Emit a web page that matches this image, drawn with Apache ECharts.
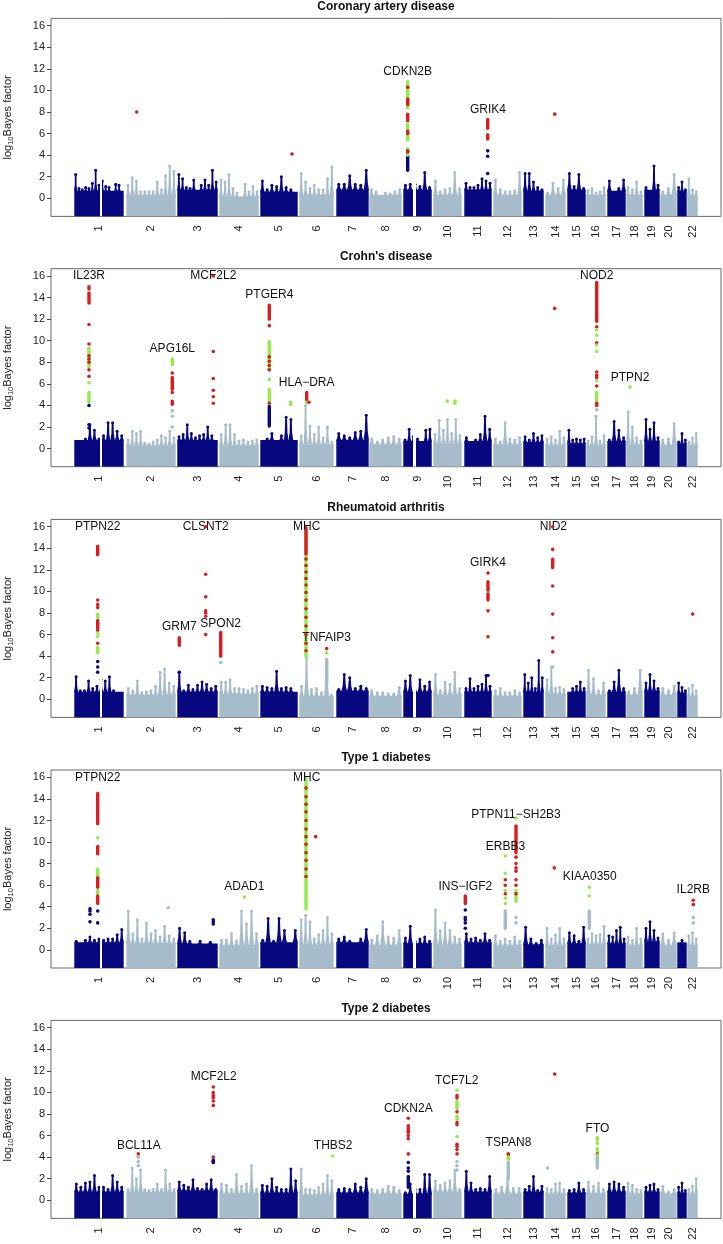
<!DOCTYPE html>
<html>
<head>
<meta charset="utf-8">
<script src="https://cdn.jsdelivr.net/npm/echarts@6/dist/echarts.min.js"></script>
<style>
html, body { margin: 0; padding: 0; background: #fff; }
#main { width: 723px; height: 1244px; }
</style>
</head>
<body>
<div id="main"></div>
<script>
var myChart = echarts.init(document.getElementById('main'));

// chromosomes and their extent along the cumulative position axis
var chromosomes = ['1','2','3','4','5','6','7','8','9','10','11','12','13','14','15','16','17','18','19','20','21','22'];
var chrStart = [23, 75, 126, 168, 209, 248, 285, 318, 352, 382, 413, 442, 472, 494, 516, 535, 556, 575, 593, 609, 626, 636];
var chrEnd   = [73, 125, 167, 208, 247, 283, 318, 351, 381, 411, 441, 471, 493, 515, 535, 555, 575, 592, 609, 626, 636, 647];
var chrGaps = { 0: [49, 51], 8: [362, 365] };
var yTicks = [0, 2, 4, 6, 8, 10, 12, 14, 16];

// ---- Coronary artery disease
var cadBase = [0.7,0.3,0.8,0.2,0.6,0.3,0.8,0.3,0.8,0.3,0.8,0.3,0.7,0.3,0.8,0.3,0.7,0.3,0.8,0.3,0.7,0.3];
var cadSpikes = [
  [2.2,0.9,0.8,1.0,0.9,1.4,2.6,1.2,1.6,1.1,1.0,0.7,1.3,1.2,0.6],
  [1.2,1.9,1.6,0.6,0.6,0.6,0.6,1.5,0.8,2.1,3.0,2.5],
  [2.2,1.8,1.0,0.9,1.7,0.5,1.2,1.7,1.2,2.6,1.5],
  [1.7,1.5,2.2,0.9,0.5,0.1,1.3,0.6,1.1,0.6],
  [1.6,0.8,1.2,1.1,2.0,1.0,0.8,0.6],
  [2.3,1.5,0.9,1.2,0.8,0.8,1.8,2.9],
  [1.3,1.3,2.1,1.3,1.2,2.6],
  [0.8,0.6,0.2,0.5,0.4,0.6,0.8],
  [1.2,1.3,1.3,1.1,2.4,1.0],
  [1.6,0.6,0.8,0.9,2.4,0.9],
  [1.4,1.0,1.0,1.2,1.8,1.6,1.4],
  [1.7,0.8,0.6,0.6,0.7,2.4],
  [2.3,2.3,1.5,1.0,0.8],
  [0.5,1.4,0.9,1.7],
  [2.3,1.1,2.2,0.9],
  [0.7,0.9,0.5,0.6,1.0],
  [1.6,0.6,0.9,1.7],
  [1.0,0.8,1.5,0.6],
  [1.0,0.8,3.0,1.2],
  [0.6,0.9,2.2],
  [1.0,1.5,0.8],
  [1.8,0.8,0.6]
];
var cadRuns = [
  [356.7,2.6,3.9,'b'],[356.7,4.0,4.6,'g'],[356.7,5.4,6.9,'g'],[356.7,8.4,9.9,'g'],[356.7,10.0,10.8,'g'],
  [356.7,7.2,7.8,'r'],[356.7,8.7,9.2,'r'],[436.7,6.5,7.3,'r'],[436.7,5.5,5.9,'r']
];
var cadDots = [
  [85.7,8.0,'r'],[241,4.1,'r'],[503.7,7.8,'r'],
  [356.7,10.3,'r'],[356.7,6.2,'r'],[356.7,6.0,'r'],[356.7,4.4,'r'],[356.7,4.3,'r'],
  [436.7,4.4,'b'],[436.7,3.9,'b'],[436.7,2.3,'b']
];
var cadGenes = [['CDKN2B',356.7,11.7],['GRIK4',437,8.2]];

// ---- Crohn's disease
var cdBase = [0.8,0.3,0.8,0.3,0.8,0.4,0.8,0.4,0.7,0.5,0.7,0.4,0.6,0.3,0.5,0.3,0.7,0.4,0.7,0.3,0.5,0.3];
var cdSpikes = [
  [0.7,0.6,0.9,2.2,1.7,0.9,1.2,2.4,2.4,1.6,1.2],
  [0.8,1.6,1.4,1.6,0.5,0.4,0.6,0.8,1.2,1.0,1.6,1.0],
  [1.1,1.3,2.2,1.4,1.0,1.2,1.3,2.0,1.2,0.8],
  [1.3,2.2,2.2,1.3,0.7,0.8,0.6,0.7,0.8],
  [0.8,0.9,1.4,0.6,1.2,2.9,2.7,0.6],
  [1.2,4.0,2.1,1.3,2.0,1.0,2.0,0.6],
  [1.4,1.2,1.0,1.5,1.6,3.1],
  [0.9,0.6,0.8,1.0,1.1,0.9],
  [0.8,1.8,1.1,0.9,0.7,1.7,1.8],
  [1.3,2.6,1.7,2.7,1.4,2.7,1.2],
  [1.0,0.7,0.8,1.3,3.0,1.8],
  [0.9,0.6,2.4,0.9,0.8,1.0],
  [1.1,0.8,1.4,1.0,1.2],
  [0.9,1.1,0.8,1.6,1.0],
  [1.7,0.8,0.9,0.8,0.9],
  [0.7,1.1,3.0,0.7,1.2],
  [0.8,2.5,1.7,1.0],
  [3.4,2.0,1.0,0.7],
  [2.7,1.8,2.4,1.0],
  [0.8,0.9,2.3],
  [0.6,1.4,0.8],
  [0.6,1.0,1.4]
];
var cdRuns = [
  [38,13.5,14.4,'r'],[38,7.6,9.3,'g'],[38,4.3,5.2,'g'],
  [121.3,7.8,8.3,'g'],[121.3,5.5,6.6,'r'],[121.3,4.1,4.4,'r'],
  [218.3,12.0,13.3,'r'],[218.3,8.8,9.9,'g'],[218.3,7.3,8.7,'g'],[218.3,4.4,5.5,'g'],[218.3,2.1,3.9,'b'],
  [255.7,4.5,5.2,'r'],[545.7,11.8,15.4,'r'],[545.7,4.4,5.2,'g']
];
var cdDots = [
  [38,15.0,'r'],[38,14.8,'r'],[38,11.5,'r'],[38,9.7,'r'],[38,8.6,'r'],[38,8.3,'r'],[38,8.0,'r'],[38,7.3,'r'],[38,6.7,'r'],[38,6.1,'g'],[38,4.0,'b'],[38,2.2,'b'],[38,1.9,'b'],
  [162.3,16.0,'r'],[162.3,9.0,'r'],[162.3,6.5,'r'],[162.3,5.4,'r'],[162.3,4.8,'r'],[162.3,4.2,'r'],
  [121.3,7.0,'r'],[121.3,5.2,'r'],[121.3,3.5,'l'],[121.3,3.0,'l'],[121.3,2.0,'l'],
  [218.3,11.4,'r'],[218.3,8.5,'r'],[218.3,8.1,'r'],[218.3,7.7,'r'],[218.3,7.3,'r'],[218.3,6.4,'g'],[218.3,4.2,'r'],
  [239.7,4.3,'g'],[239.7,4.1,'g'],[255.7,4.3,'g'],[258,4.3,'r'],
  [545.7,11.3,'r'],[545.7,11.0,'g'],[545.7,10.5,'g'],[545.7,9.8,'r'],[545.7,9.6,'g'],[545.7,9.0,'g'],[545.7,7.1,'r'],[545.7,6.8,'r'],
  [545.7,6.6,'r'],[545.7,6.3,'g'],[545.7,5.8,'r'],[545.7,4.2,'r'],[545.7,4.0,'r'],[545.7,3.6,'l'],
  [503.7,13.0,'r'],[579,5.7,'g'],[396.3,4.4,'g'],[404,4.4,'g'],[404,4.2,'g']
];
var cdGenes = [['IL23R',38,16.0],['MCF2L2',162.3,16.0],['APG16L',121.3,9.3],['PTGER4',218.3,14.3],['HLA\u2212DRA',255.7,6.1],['NOD2',545.7,16.0],['PTPN2',579,6.6]];

// ---- Rheumatoid arthritis
var raBase = [0.7,0.4,0.7,0.5,0.7,0.3,0.8,0.3,0.7,0.4,0.7,0.3,0.7,0.5,0.7,0.4,0.7,0.4,0.8,0.4,0.6,0.3];
var raSpikes = [
  [2.1,0.8,0.8,1.7,1.0,1.2,1.8,1.7,2.1,0.8,0.6,0.5],
  [1.0,0.8,1.7,0.6,0.7,0.8,1.2,2.5,2.8,1.5,1.2],
  [2.5,0.8,1.3,0.9,1.3,1.6,1.4,1.0,1.2],
  [1.6,1.6,1.8,1.0,1.0,0.9,0.8,1.0,1.2],
  [1.2,1.1,1.0,2.6,1.0,1.1,1.0,0.5],
  [1.2,3.8,0.9,1.0,0.6,3.7,0.4],
  [0.9,2.3,2.0,1.0,1.2,1.0],
  [0.8,0.6,0.6,0.5,0.5,1.1],
  [1.7,2.2,0.8,1.8,1.2,1.6],
  [2.3,0.8,1.6,1.4,2.5,1.0],
  [1.0,1.9,1.0,1.2,1.4,2.2,1.2],
  [0.8,1.0,0.6,0.6,0.8,0.6],
  [2.3,1.5,2.0,1.0,3.6,2.0],
  [1.8,3.0,1.0,1.1,0.9],
  [0.7,1.0,1.2,1.6,1.0],
  [2.7,1.9,0.8,1.5],
  [0.8,1.6,2.7,1.0],
  [0.7,1.0,2.7],
  [1.5,2.3,1.7,1.0],
  [1.0,0.8,1.2],
  [1.5,1.1,0.8],
  [1.0,1.3,0.8]
];
var raRuns = [
  [46.7,13.4,14.2,'r'],[46.7,7.6,7.9,'g'],[46.7,6.4,7.3,'r'],[46.7,4.3,4.8,'g'],
  [128.3,5.0,5.7,'r'],[169.7,4.0,6.2,'r'],
  [255,4.0,15.6,'g'],[255,13.5,15.9,'r'],
  [275.7,1.5,3.7,'l'],
  [437,10.1,10.9,'r'],[437,9.2,9.8,'r'],
  [501.7,12.2,13.0,'r']
];
var raDots = [
  [46.7,9.2,'r'],[46.7,8.8,'r'],[46.7,8.5,'r'],[46.7,6.1,'g'],[46.7,5.8,'g'],[46.7,5.2,'r'],[46.7,3.5,'b'],[46.7,3.0,'b'],[46.7,2.5,'b'],
  [154.7,16.0,'r'],[154.7,11.6,'r'],[154.7,9.5,'r'],[154.7,8.2,'r'],[154.7,8.0,'r'],[154.7,7.7,'r'],[154.7,6.0,'r'],
  [128.3,2.5,'b'],[169.7,3.4,'l'],
  [255,13.0,'r'],[255,12.4,'r'],[255,11.8,'r'],[255,11.2,'r'],[255,10.6,'r'],[255,9.9,'r'],[255,9.2,'r'],[255,8.4,'r'],
  [255,7.6,'r'],[255,6.8,'r'],[255,6.0,'r'],[255,5.2,'r'],[255,4.5,'r'],
  [275.7,4.7,'r'],[275.7,4.3,'g'],
  [437,11.7,'r'],[437,8.2,'r'],[437,5.8,'r'],[437,2.2,'b'],
  [501.7,16.0,'r'],[501.7,13.9,'r'],[501.7,10.5,'r'],[501.7,7.9,'r'],[501.7,5.7,'r'],[501.7,4.4,'r'],[501.7,3.0,'l'],
  [641.7,7.9,'r']
];
var raGenes = [['PTPN22',46.7,16],['CLSNT2',154.7,16],['GRM7',128.3,6.7],['SPON2',169.7,7.0],['MHC',255.7,16],['TNFAIP3',275.7,5.7],['GIRK4',437,12.7],['NID2',502.3,16]];

// ---- Type 1 diabetes
var t1Base = [0.7,0.6,0.6,0.4,0.7,0.5,0.7,0.4,0.6,0.5,0.7,0.4,0.5,0.4,0.6,0.5,0.6,0.4,0.8,0.4,0.7,0.4];
var t1Spikes = [
  [0.8,0.5,0.9,1.2,0.9,1.0,0.9,1.0,1.0,1.4,1.9],
  [3.6,1.5,2.8,1.0,2.5,1.5,1.8,1.2,2.2,1.3,1.0],
  [2.0,1.6,0.8,0.6,0.8,0.6,0.7,0.5],
  [0.9,0.9,1.5,0.8,3.6,2.4,3.6,1.5],
  [0.9,2.9,0.8,2.9,1.8,0.7,1.8],
  [2.8,3.2,2.6,1.0,1.4,1.8,3.0,1.5],
  [1.0,1.2,0.8,0.6,1.0,1.9],
  [0.9,1.3,2.6,1.2,1.1,1.8],
  [1.1,2.2,0.8,1.0,1.2,0.8],
  [3.7,1.8,2.5,1.8,1.2,1.0],
  [1.5,1.0,1.1,0.9,1.5,0.9],
  [1.3,0.8,1.0,0.8,1.2,0.8],
  [2.1,1.0,0.6,0.9],
  [2.0,1.0,1.4,2.0,1.0],
  [1.6,1.3,0.8,2.1],
  [1.0,1.5,1.3,1.4,2.2],
  [1.3,1.2,1.8,2.1,1.0],
  [1.2,0.9,2.0,1.0],
  [2.0,2.6,1.8,1.1],
  [1.5,0.9,1.6],
  [0.6,0.9,0.7],
  [1.3,1.6,1.0]
];
var t1Runs = [
  [46.7,11.7,14.5,'r'],[46.7,8.9,9.6,'r'],[46.7,6.5,7.5,'g'],[46.7,5.8,6.7,'r'],[46.7,5.2,5.5,'g'],[46.7,4.3,5.0,'r'],
  [255,3.8,16.0,'g'],
  [414.3,4.3,5.0,'r'],
  [454.3,2.0,3.6,'l'],
  [465,9.0,11.5,'r'],[465,4.5,5.5,'g'],
  [538.3,2.0,3.6,'l']
];
var t1Dots = [
  [46.7,10.4,'g'],[46.7,3.6,'b'],[46.7,2.5,'b'],
  [39,3.8,'b'],[39,3.6,'b'],[39,3.3,'b'],[39,2.6,'b'],
  [255,15.0,'r'],[255,14.2,'r'],[255,13.5,'r'],[255,12.8,'r'],[255,12.0,'r'],[255,11.2,'r'],[255,10.5,'r'],[255,9.8,'r'],
  [255,9.0,'r'],[255,8.3,'r'],[255,7.5,'r'],[255,6.8,'r'],
  [264.7,10.5,'r'],[193.3,4.9,'g'],
  [162.3,2.8,'b'],[162.3,2.6,'b'],[162.3,2.4,'b'],[117.3,3.9,'l'],
  [414.3,3.7,'b'],[414.3,3.0,'b'],[414.3,2.8,'b'],[414.3,2.5,'b'],[414.3,2.0,'b'],
  [454.3,8.7,'g'],[454.3,7.1,'g'],[454.3,6.5,'r'],[454.3,6.0,'r'],[454.3,5.5,'g'],[454.3,5.2,'r'],[454.3,4.8,'g'],[454.3,4.3,'g'],
  [465,12.2,'g'],[465,8.6,'r'],[465,8.0,'r'],[465,7.6,'r'],[465,7.3,'r'],[465,6.5,'r'],[465,6.0,'r'],[465,5.2,'r'],[465,3.0,'l'],[465,2.5,'l'],
  [503.3,7.6,'r'],
  [538.3,5.8,'g'],[538.3,5.0,'g'],
  [642.3,4.6,'r'],[642.3,4.2,'r'],[642.3,3.0,'l'],[642.3,2.5,'l']
];
var t1Genes = [['PTPN22',46.7,16],['MHC',255.7,16],['ADAD1',193.3,5.9],['INS\u2212IGF2',414.3,5.9],['ERBB3',454.5,9.6],['PTPN11\u2212SH2B3',465,12.5],['KIAA0350',538.7,6.8],['IL2RB',642.3,5.6]];

// ---- Type 2 diabetes
var t2Base = [0.8,0.8,0.9,0.6,0.7,0.5,0.7,0.6,0.6,0.8,0.8,0.6,0.8,0.6,0.7,0.6,0.8,0.6,0.8,0.6,0.7,0.6];
var t2Spikes = [
  [1.5,1.2,1.6,1.7,2.3,1.2,1.2,1.0,2.3,1.7,1.2],
  [1.0,3.0,2.0,2.8,1.0,0.9,1.0,1.5,1.0,2.8,1.5,1.0],
  [1.7,1.4,1.2,1.9,1.1,1.0,1.5,1.9,1.0],
  [1.5,1.4,1.0,2.4,1.3,1.5,3.2,1.0],
  [1.4,1.3,2.0,1.2,1.0,1.0,2.9,1.8],
  [2.9,1.0,1.0,0.9,1.2,1.5,2.3,1.8],
  [1.0,1.1,1.0,1.5,1.2,2.0],
  [1.0,0.9,1.0,1.3,1.2,0.9],
  [0.7,1.5,1.0,1.0,2.4,2.4],
  [1.8,1.4,1.6,1.8,2.8,1.0],
  [2.7,1.6,1.0,1.1,1.0,2.2],
  [1.0,1.2,2.0,1.1,1.1],
  [1.0,1.3,2.2,0.9,1.3],
  [1.1,1.0,1.5,1.6,1.0],
  [0.9,1.0,1.6,1.0],
  [1.7,1.3,1.6,1.0],
  [1.5,1.7,1.5,1.2],
  [1.6,1.4,1.0,0.9],
  [1.2,1.4,1.5,1.0],
  [1.3,0.8,1.0],
  [1.2,1.6,0.9],
  [1.0,1.3,2.0]
];
var t2Runs = [
  [357.3,1.2,2.2,'b'],
  [406,8.5,9.2,'g'],[406,7.5,7.8,'g'],
  [457.3,2.0,3.5,'l'],
  [546.3,3.0,4.0,'l'],[546.3,4.6,4.8,'g']
];
var t2Dots = [
  [87.3,4.3,'r'],[87.3,4.0,'l'],[87.3,3.6,'l'],[87.3,3.2,'l'],
  [162.3,10.5,'r'],[162.3,10.0,'r'],[162.3,9.7,'r'],[162.3,9.5,'r'],[162.3,9.2,'r'],[162.3,8.8,'r'],[162.3,4.0,'r'],[162.3,3.7,'b'],[162.3,3.6,'b'],[162.3,3.5,'b'],
  [281.7,4.1,'g'],
  [357.3,7.6,'r'],[357.3,6.9,'r'],[357.3,6.7,'r'],[357.3,6.5,'r'],[357.3,6.3,'r'],[357.3,6.0,'r'],[357.3,5.7,'r'],[357.3,4.3,'r'],[357.3,3.5,'b'],[357.3,3.0,'b'],[357.3,2.7,'b'],
  [406,10.2,'g'],[406,9.7,'r'],[406,9.5,'r'],[406,8.2,'r'],[406,7.2,'r'],[406,7.0,'r'],[406,5.9,'g'],[406,5.2,'r'],[406,5.0,'r'],[406,4.7,'r'],[406,4.3,'r'],[406,3.6,'l'],[406,3.2,'l'],[406,2.8,'l'],
  [503.7,11.7,'r'],
  [457.3,4.3,'r'],[457.3,4.2,'r'],[457.3,4.0,'g'],[457.3,3.8,'g'],
  [546.3,5.8,'g'],[546.3,5.6,'g'],[546.3,5.3,'g'],[546.3,4.3,'r'],[546.3,4.2,'g'],
  [496.7,3.0,'l']
];
var t2Genes = [['BCL11A',87.8,5.1],['MCF2L2',162.7,11.5],['THBS2',282.2,5.1],['CDKN2A',357.3,8.5],['TCF7L2',405.7,11.1],['TSPAN8',457.5,5.3],['FTO',546.5,6.6]];

var panels = [
  { title: 'Coronary artery disease', base: cadBase, spikes: cadSpikes, runs: cadRuns, dots: cadDots, genes: cadGenes },
  { title: "Crohn's disease", base: cdBase, spikes: cdSpikes, runs: cdRuns, dots: cdDots, genes: cdGenes },
  { title: 'Rheumatoid arthritis', base: raBase, spikes: raSpikes, runs: raRuns, dots: raDots, genes: raGenes },
  { title: 'Type 1 diabetes', base: t1Base, spikes: t1Spikes, runs: t1Runs, dots: t1Dots, genes: t1Genes },
  { title: 'Type 2 diabetes', base: t2Base, spikes: t2Spikes, runs: t2Runs, dots: t2Dots, genes: t2Genes }
];

var FONT = "'Liberation Sans', Arial, sans-serif";
var colors = { b: '#07077f', l: '#a7bccb', r: '#d81e1e', g: '#92ec4c' };
var gridTops = [18.4, 268.7, 519.4, 770, 1020.4];
var mids = chrStart.map(function (s, i) { return (s + chrEnd[i]) / 2; });

function chrLabel(v) {
  var best = 0;
  for (var i = 1; i < mids.length; i++) {
    if (Math.abs(mids[i] - v) < Math.abs(mids[best] - v)) best = i;
  }
  return chromosomes[best];
}

var grids = [], xAxes = [], yAxes = [], titles = [], series = [];

panels.forEach(function (p, k) {
  grids.push({ left: 51, width: 670, top: gridTops[k], height: 198, outerBoundsMode: 'none', containLabel: false,
    show: true, borderColor: '#6a6a6a', borderWidth: 1, backgroundColor: 'transparent' });
  titles.push({ text: p.title, left: 386, top: gridTops[k] - 18, textAlign: 'center', padding: 0,
    textStyle: { fontSize: 12, fontWeight: 'bold', fontFamily: FONT, color: '#111' } });
  xAxes.push({ gridIndex: k, type: 'value', min: 0, max: 670,
    axisLine: { show: false }, axisTick: { show: false }, splitLine: { show: false },
    axisLabel: { customValues: mids, rotate: 90, margin: 9, fontSize: 11, fontFamily: FONT, color: '#222',
      hideOverlap: false, showMinLabel: true, showMaxLabel: true, formatter: chrLabel } });
  yAxes.push({ gridIndex: k, type: 'value', min: -1.68, max: 16.68,
    axisLine: { show: false }, splitLine: { show: false },
    axisTick: { show: true, length: 4, customValues: yTicks, lineStyle: { color: '#444' } },
    axisLabel: { customValues: yTicks, margin: 6, fontSize: 11, fontFamily: FONT, color: '#222' },
    name: '{n|log}{s|10}{n|Bayes factor}', nameLocation: 'middle', nameGap: 36, nameRotate: 90,
    nameTextStyle: { fontFamily: FONT, color: '#222', rich: {
      n: { fontSize: 11, lineHeight: 14, fontFamily: FONT, color: '#222' },
      s: { fontSize: 7.5, lineHeight: 8, verticalAlign: 'bottom', fontFamily: FONT, color: '#222' } } } });

  // background mass of each chromosome
  series.push({
    type: 'custom', xAxisIndex: k, yAxisIndex: k, silent: true, clip: true,
    data: chromosomes.map(function (c, i) { return [chrStart[i], chrEnd[i], i]; }),
    encode: { x: [0, 1] },
    renderItem: function (params, api) {
      var i = params.dataIndex;
      var cs = params.coordSys;
      var bottom = cs.y + cs.height;
      var col = i % 2 === 0 ? colors.b : colors.l;
      var s = chrStart[i], e = chrEnd[i];
      var a = api.coord([s + 0.3, p.base[i]]);
      var b = api.coord([e - 0.3, p.base[i]]);
      var kids = [{ type: 'rect', shape: { x: a[0], y: a[1], width: b[0] - a[0], height: bottom - a[1] }, style: { fill: col } }];
      var sp = p.spikes[i];
      var step = (e - s) / sp.length;
      var topMost = a[1];
      sp.forEach(function (h, j) {
        var cx = s + (j + 0.5) * step;
        var t = api.coord([cx, h]);
        if (t[1] >= a[1]) return;
        var hw = Math.max(1.2, step * 0.5);
        var sh = a[1] + (t[1] - a[1]) * 0.35;
        topMost = Math.min(topMost, t[1]);
        kids.push({ type: 'polygon', shape: { points: [
          [t[0] - hw, a[1] + 0.5], [t[0] - hw * 0.55, sh], [t[0] - 0.9, t[1]],
          [t[0] + 0.9, t[1]], [t[0] + hw * 0.55, sh], [t[0] + hw, a[1] + 0.5]] }, style: { fill: col } });
        kids.push({ type: 'circle', shape: { cx: t[0], cy: t[1], r: 1.5 }, style: { fill: col } });
      });
      if (chrGaps[i]) {
        var g0 = api.coord([chrGaps[i][0], 0])[0], g1 = api.coord([chrGaps[i][1], 0])[0];
        kids.push({ type: 'rect', shape: { x: g0, y: topMost - 3, width: g1 - g0, height: bottom - topMost + 3 }, style: { fill: '#fff' } });
      }
      return { type: 'group', children: kids };
    }
  });

  // dense columns of associated SNPs
  series.push({
    type: 'custom', xAxisIndex: k, yAxisIndex: k, silent: true, clip: true,
    data: p.runs.map(function (r) { return [r[0], r[1], r[2]]; }),
    encode: { x: 0, y: [1, 2] },
    renderItem: function (params, api) {
      var r = p.runs[params.dataIndex];
      var p0 = api.coord([r[0], r[1]]), p1 = api.coord([r[0], r[2]]);
      return { type: 'line', shape: { x1: p0[0], y1: p0[1], x2: p1[0], y2: p1[1] },
        style: { stroke: colors[r[3]], lineWidth: 3.4, lineCap: 'round' } };
    }
  });

  // single SNPs
  series.push({
    type: 'scatter', xAxisIndex: k, yAxisIndex: k, silent: true, symbolSize: 3.6,
    data: p.dots.map(function (d) { return [d[0], d[1]]; }),
    itemStyle: { opacity: 1, color: function (q) { return colors[p.dots[q.dataIndex][2]]; } }
  });

  // gene labels
  series.push({
    type: 'custom', xAxisIndex: k, yAxisIndex: k, silent: true, clip: false,
    data: p.genes.map(function (g) { return [g[1], g[2]]; }),
    encode: { x: 0, y: 1 },
    renderItem: function (params, api) {
      var g = p.genes[params.dataIndex];
      var c = api.coord([g[1], g[2]]);
      return { type: 'text', x: c[0], y: c[1],
        style: { text: g[0], align: 'center', verticalAlign: 'middle', font: '12px ' + FONT, fill: '#111' } };
    }
  });
});

var option = {
  animation: false,
  backgroundColor: '#fff',
  title: titles,
  grid: grids,
  xAxis: xAxes,
  yAxis: yAxes,
  series: series
};
myChart.setOption(option);
</script>
</body>
</html>
